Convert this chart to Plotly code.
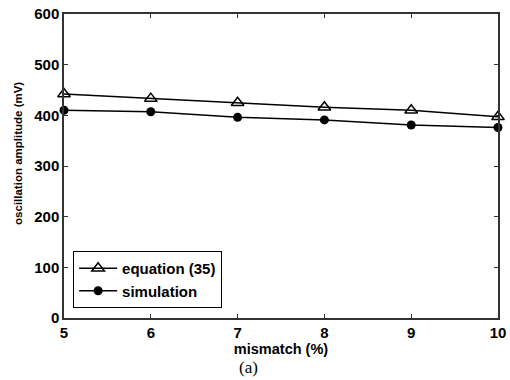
import plotly.graph_objects as go

mismatch = [5, 6, 7, 8, 9, 10]
equation_35 = [442, 433, 425, 416, 410, 397]
simulation = [410, 407, 396, 391, 381, 376]
x_ticks = [5, 6, 7, 8, 9, 10]
y_ticks = [0, 100, 200, 300, 400, 500, 600]

FAM = "Liberation Sans, Arial, sans-serif"

fig = go.Figure()
fig.add_trace(go.Scatter(
    x=mismatch, y=equation_35, name="<b>equation (35)</b>", mode="lines+markers",
    line=dict(color="black", width=1.5),
    marker=dict(symbol="triangle-up-open", size=11, color="black", line=dict(width=1.5)),
    cliponaxis=False,
))
fig.add_trace(go.Scatter(
    x=mismatch, y=simulation, name="<b>simulation</b>", mode="lines+markers",
    line=dict(color="black", width=1.5),
    marker=dict(symbol="circle", size=9, color="black"),
    cliponaxis=False,
))

axis_common = dict(
    showgrid=False, zeroline=False, showline=True, linecolor="#333", linewidth=1.5,
    mirror="ticks", ticks="inside", ticklen=4, tickcolor="#333", tickwidth=1,
    tickfont=dict(family=FAM, size=15, color="black"), automargin=False,
)
fig.update_xaxes(range=[5, 10], tickvals=x_ticks,
                 ticktext=[f"<b>{v}</b>" for v in x_ticks],
                 title=dict(text="<b>mismatch (%)</b>", font=dict(family=FAM, size=14.5, color="black"), standoff=0),
                 **axis_common)
fig.update_yaxes(range=[0, 600], tickvals=y_ticks,
                 ticktext=[f"<b>{v}</b>" for v in y_ticks],
                 **axis_common)

fig.update_layout(
    width=510, height=380,
    margin=dict(l=64, r=12, t=14, b=62),
    paper_bgcolor="white", plot_bgcolor="white",
    showlegend=True,
    legend=dict(x=0.021, y=0.033, xanchor="left", yanchor="bottom",
                bordercolor="black", borderwidth=1, bgcolor="white",
                font=dict(family=FAM, size=15, color="black"),
                tracegroupgap=0, itemwidth=38),
    annotations=[
        dict(text="<b>oscillation amplitude (mV)</b>", xref="paper", yref="paper",
             x=-0.106, y=0.543, xanchor="center", yanchor="middle", textangle=-90,
             showarrow=False, font=dict(family=FAM, size=11.5, color="black")),
        dict(text="(a)", xref="paper", yref="paper", x=0.425, y=-0.125,
             xanchor="center", yanchor="top", showarrow=False,
             font=dict(family="Liberation Serif, Times New Roman, serif", size=17, color="black")),
    ],
)

fig.write_html("out.html")
